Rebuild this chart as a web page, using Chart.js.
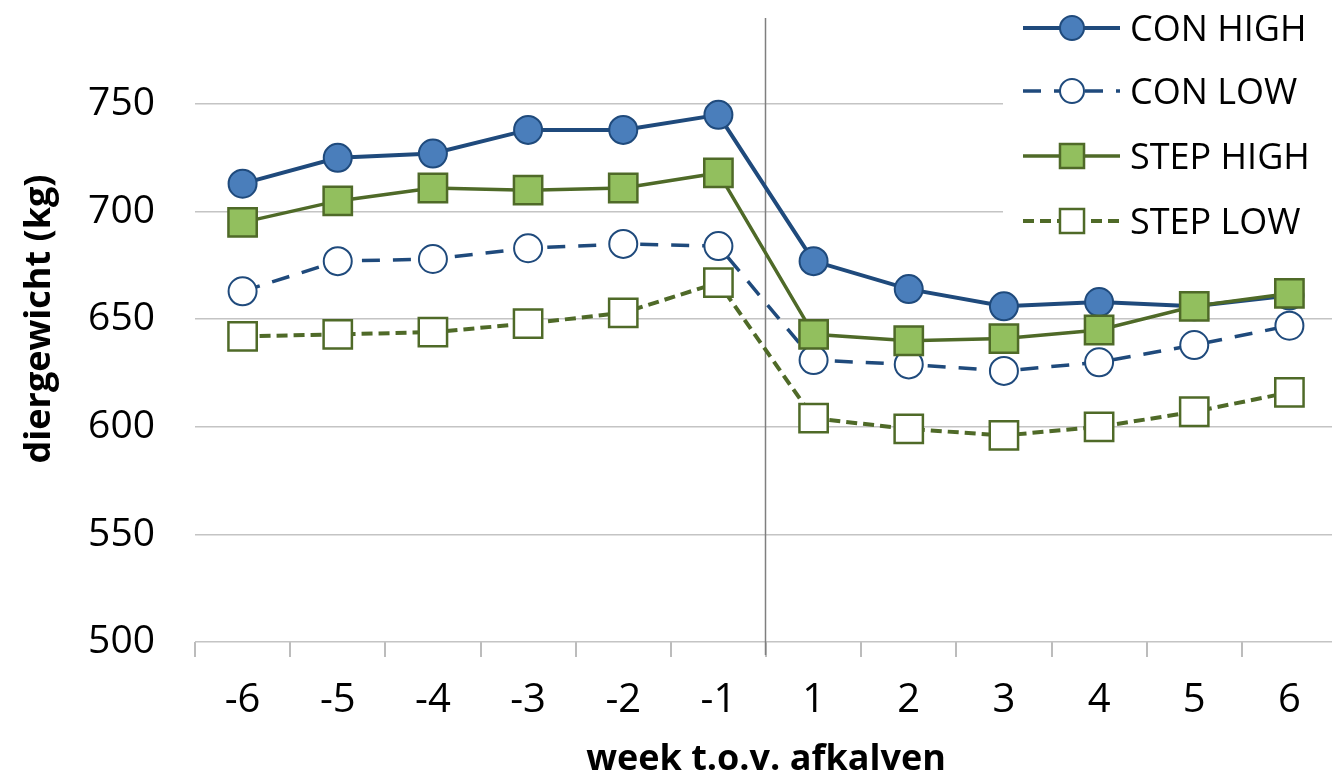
<!DOCTYPE html>
<html>
<head>
<meta charset="utf-8">
<title>diergewicht</title>
<script src="https://cdn.jsdelivr.net/npm/chart.js@4.4.1/dist/chart.umd.min.js"></script>
<style>
  html, body { margin: 0; padding: 0; background: #fff; overflow: hidden; }
  canvas { display: block; }
</style>
</head>
<body>
<canvas class="line-chart" width="1350" height="781"></canvas>
<script>
// weken t.o.v. afkalven
const weken = ['-6', '-5', '-4', '-3', '-2', '-1', '1', '2', '3', '4', '5', '6'];

// diergewicht (kg) per groep
const conHigh  = [713, 725, 727, 738, 738, 745, 677, 664, 656, 658, 656, 661];
const conLow   = [663, 677, 678, 683, 685, 684, 631, 629, 626, 630, 638, 647];
const stepHigh = [695, 705, 711, 710, 711, 718, 643, 640, 641, 645, 656, 662];
const stepLow  = [642, 643, 644, 648, 653, 667, 604, 599, 596, 600, 607, 616];

const yTicks = [500, 550, 600, 650, 700, 750];

const blauw = '#1f4a7c';
const groen = '#4f6a28';

Chart.defaults.font.family = "'Open Sans', sans-serif";
Chart.defaults.color = '#000';

// lijn tussen week -1 en 1 (afkalven), y-titel en legenda rechtsboven
const afkalfLijn = {
  id: 'afkalfLijn',
  beforeDatasetsDraw(chart) {
    const ctx = chart.ctx;
    const area = chart.chartArea;
    const x = Math.round(chart.scales.x.getPixelForValue(5.5)) - 0.5;
    ctx.save();
    ctx.strokeStyle = '#7f7f7f';
    ctx.lineWidth = 1.5;
    ctx.beginPath();
    ctx.moveTo(x, area.top);
    ctx.lineTo(x, area.bottom + 13);
    ctx.stroke();
    ctx.restore();
  },
  afterDraw(chart) {
    const ctx = chart.ctx;
    ctx.save();

    // y-as titel
    ctx.translate(40, 319);
    ctx.rotate(-Math.PI / 2);
    ctx.font = "bold 36px 'Open Sans'";
    ctx.fillStyle = '#000';
    ctx.textAlign = 'center';
    ctx.textBaseline = 'middle';
    ctx.fillText('diergewicht (kg)', 0, 0);
    ctx.setTransform(1, 0, 0, 1, 0, 0);
    ctx.textAlign = 'left';

    ctx.fillStyle = '#fff';
    ctx.fillRect(1003, 0, chart.width - 1003, 250);

    const rijen = [28, 91, 156, 221];
    chart.data.datasets.forEach((ds, i) => {
      const y = rijen[i];
      ctx.strokeStyle = ds.borderColor;
      ctx.lineWidth = ds.borderWidth;
      ctx.setLineDash(ds.borderDash || []);
      ctx.beginPath();
      ctx.moveTo(1023, y);
      ctx.lineTo(1120, y);
      ctx.stroke();
      ctx.setLineDash([]);

      ctx.fillStyle = ds.pointBackgroundColor;
      ctx.strokeStyle = ds.pointBorderColor;
      ctx.lineWidth = ds.pointBorderWidth;
      Chart.helpers.drawPoint(ctx, {
        pointStyle: ds.pointStyle,
        rotation: 0,
        radius: ds.pointStyle === 'rect' ? 17 : 12,
        borderWidth: ds.pointBorderWidth
      }, 1072, y);

      ctx.fillStyle = '#000';
      ctx.font = "36px 'Open Sans'";
      ctx.textBaseline = 'alphabetic';
      ctx.fillText(ds.label, 1130, y + 12.5);
    });
    ctx.restore();
  }
};

const data = {
  labels: weken,
  datasets: [
    {
      label: 'CON HIGH',
      data: conHigh,
      borderColor: blauw,
      borderWidth: 4,
      pointStyle: 'circle',
      pointRadius: 14,
      pointBackgroundColor: '#4a7ebb',
      pointBorderColor: blauw,
      pointBorderWidth: 2,
      order: 3
    },
    {
      label: 'CON LOW',
      data: conLow,
      borderColor: blauw,
      borderWidth: 3.5,
      borderDash: [18, 13],
      pointStyle: 'circle',
      pointRadius: 14,
      pointBackgroundColor: '#fff',
      pointBorderColor: blauw,
      pointBorderWidth: 2,
      order: 2
    },
    {
      label: 'STEP HIGH',
      data: stepHigh,
      borderColor: groen,
      borderWidth: 3.5,
      pointStyle: 'rect',
      pointRadius: 20,
      pointBackgroundColor: '#92bf5e',
      pointBorderColor: groen,
      pointBorderWidth: 2.5,
      order: 1
    },
    {
      label: 'STEP LOW',
      data: stepLow,
      borderColor: groen,
      borderWidth: 4,
      borderDash: [11, 6],
      pointStyle: 'rect',
      pointRadius: 20,
      pointBackgroundColor: '#fff',
      pointBorderColor: groen,
      pointBorderWidth: 2.5,
      order: 0
    }
  ]
};

var ctx = document.getElementsByClassName('line-chart');
var chartGraph = new Chart(ctx, {
  type: 'line',
  data,
  plugins: [afkalfLijn],
  options: {
    responsive: false,
    animation: false,
    layout: { autoPadding: false, padding: { left: 0, right: 13, top: 18, bottom: 0 } },
    plugins: {
      legend: { display: false },
      tooltip: { enabled: false }
    },
    scales: {
      x: {
        offset: true,
        grid: {
          offset: true,
          drawOnChartArea: false,
          tickLength: 15,
          color: '#bcbcbc',
          lineWidth: 2
        },
        border: { display: false },
        ticks: { font: { size: 40 }, padding: 20, maxRotation: 0 },
        title: {
          display: true,
          text: 'week t.o.v. afkalven',
          font: { size: 36, weight: 'bold' },
          padding: { top: 0, bottom: 0 }
        },
        afterFit(scale) {
          scale.height = 139;
          scale.paddingLeft = 0;
          scale.paddingRight = 0;
        }
      },
      y: {
        min: 500,
        max: 790,
        grid: { color: '#c4c4c4', lineWidth: 1.5, drawTicks: false },
        border: { display: false },
        ticks: { font: { size: 39 }, padding: 40 },
        afterBuildTicks(scale) {
          scale.ticks = yTicks.map(v => ({ value: v }));
        },
        afterFit(scale) {
          scale.width = 195;
          scale.paddingTop = 0;
          scale.paddingBottom = 0;
        }
      }
    }
  }
});
</script>
</body>
</html>
